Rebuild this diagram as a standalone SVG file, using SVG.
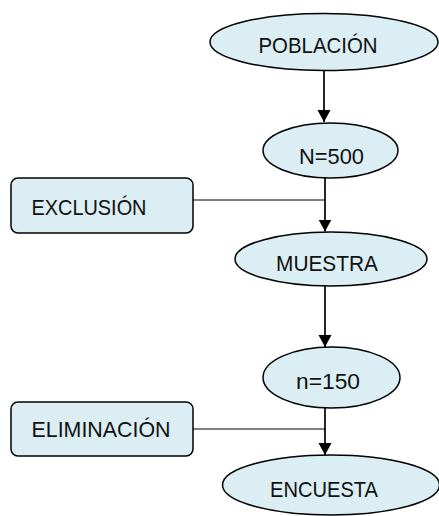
<svg xmlns="http://www.w3.org/2000/svg" width="439" height="516" viewBox="0 0 439 516">
<style>
.n{fill:#DAEEF3;stroke:#000;stroke-width:1.5}
.t{font-family:"Liberation Sans",Arial,sans-serif;font-size:22.5px;fill:#111;text-anchor:middle}
.c{stroke:#000;stroke-width:1.7;fill:none}
.h{stroke:#000;stroke-width:1;fill:none}
</style>
<defs>
<marker id="ah" markerUnits="userSpaceOnUse" markerWidth="14" markerHeight="14" viewBox="0 0 14 14" refX="12" refY="7" orient="auto">
<path d="M0,0.5 L12,7 L0,13.5 Z" fill="#000"/>
</marker>
</defs>
<rect width="439" height="516" fill="#fff"/>
<g id="poblacion">
<ellipse class="n" cx="324" cy="42" rx="114" ry="28.5"/>
<text class="t" x="318" y="52.5" textLength="119" lengthAdjust="spacingAndGlyphs">POBLACIÓN</text>
</g>
<g id="n500">
<ellipse class="n" cx="330.5" cy="150.5" rx="67.5" ry="27.5"/>
<text class="t" x="331.5" y="163.5" textLength="65" lengthAdjust="spacingAndGlyphs">N=500</text>
</g>
<g id="exclusion">
<rect class="n" x="11" y="178" width="182" height="55" rx="7"/>
<text class="t" x="89" y="215" textLength="115" lengthAdjust="spacingAndGlyphs">EXCLUSIÓN</text>
</g>
<g id="muestra">
<ellipse class="n" cx="331" cy="259" rx="96" ry="27"/>
<text class="t" x="327" y="271" textLength="102" lengthAdjust="spacingAndGlyphs">MUESTRA</text>
</g>
<g id="n150">
<ellipse class="n" cx="331.5" cy="377.5" rx="68.5" ry="30.5"/>
<text class="t" x="328" y="388.5" textLength="64" lengthAdjust="spacingAndGlyphs">n=150</text>
</g>
<g id="eliminacion">
<rect class="n" x="11" y="402" width="182" height="54" rx="7"/>
<text class="t" x="101" y="437" textLength="139" lengthAdjust="spacingAndGlyphs">ELIMINACIÓN</text>
</g>
<g id="encuesta">
<ellipse class="n" cx="331" cy="485" rx="108.5" ry="30"/>
<text class="t" x="324" y="497" textLength="108" lengthAdjust="spacingAndGlyphs">ENCUESTA</text>
</g>
<g id="connectors">
<line class="c" x1="324" y1="70.5" x2="324" y2="122" marker-end="url(#ah)"/>
<line class="c" x1="325" y1="178" x2="325" y2="231.5" marker-end="url(#ah)"/>
<line class="h" x1="193" y1="200" x2="325" y2="200"/>
<line class="c" x1="325" y1="286" x2="325" y2="347" marker-end="url(#ah)"/>
<line class="c" x1="325" y1="408" x2="325" y2="455" marker-end="url(#ah)"/>
<line class="h" x1="193" y1="429" x2="325" y2="429"/>
</g>
</svg>
